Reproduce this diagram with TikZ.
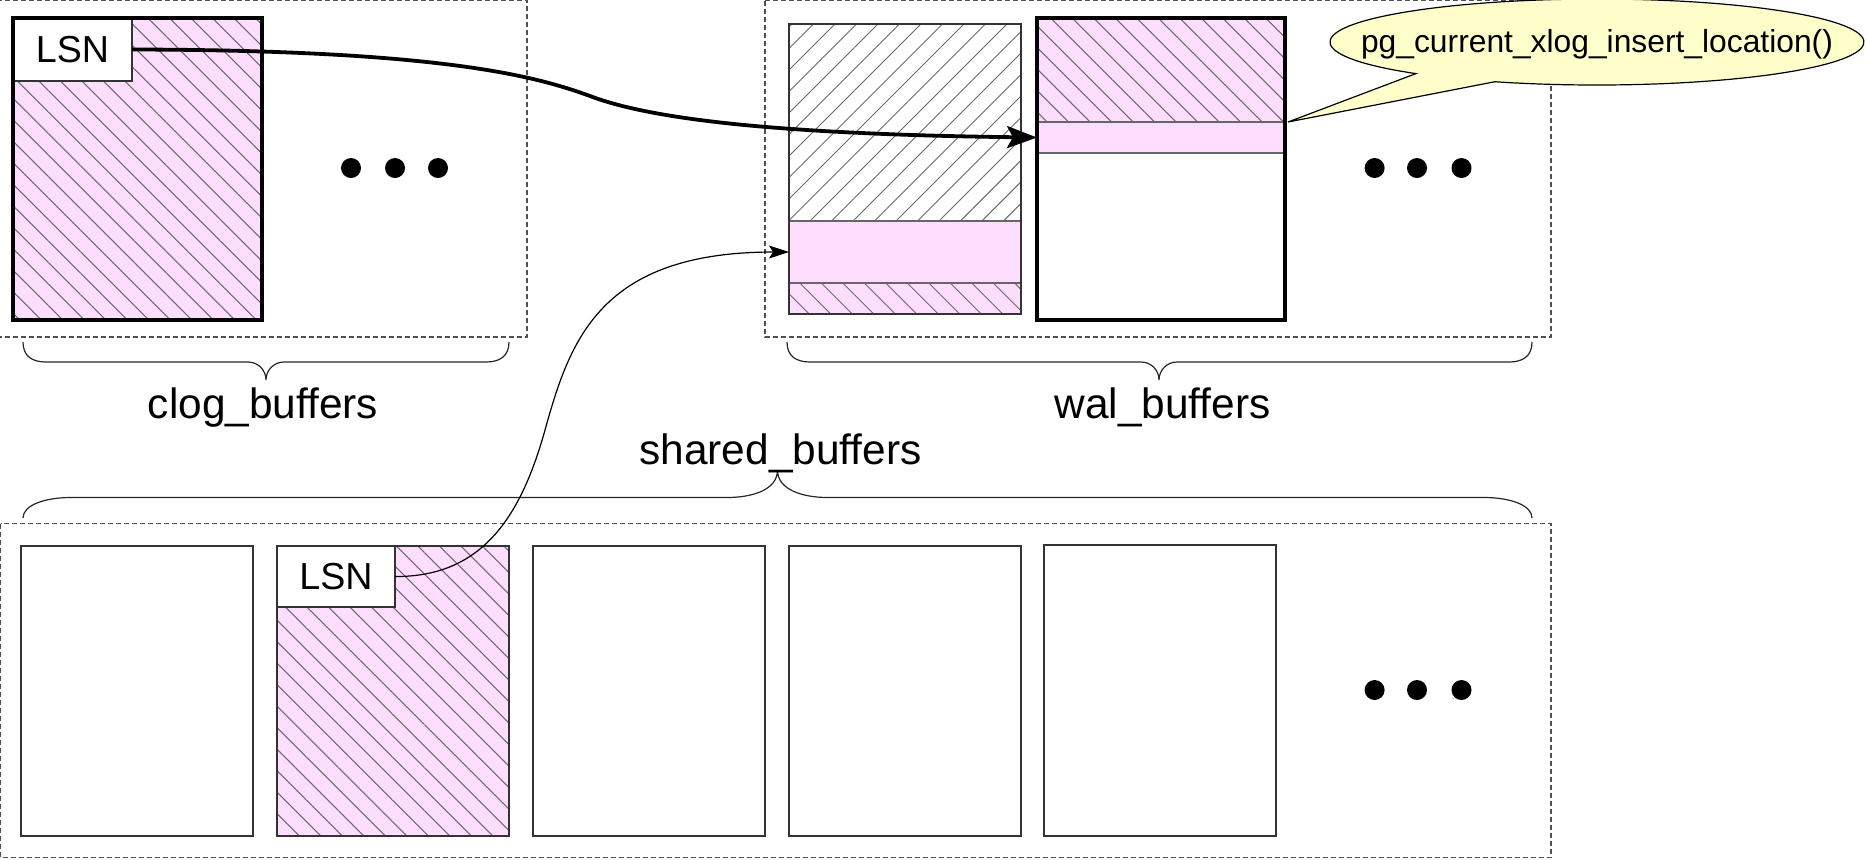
\documentclass[tikz,border=0pt]{standalone}
\usepackage{fontspec}
\setmainfont{Liberation Sans}
\usetikzlibrary{patterns.meta,arrows.meta}
\definecolor{pinkc}{RGB}{255,221,255}
\definecolor{callc}{RGB}{255,255,204}
\definecolor{hatchc}{RGB}{105,105,105}
\definecolor{dashc}{RGB}{80,80,80}
\begin{document}
\begin{tikzpicture}[x=0.5pt,y=-0.5pt,
  nwh/.style={pattern={Lines[angle=-45,distance=7.6pt,line width=0.5pt]},pattern color=hatchc},
  neh/.style={pattern={Lines[angle=45,distance=7.6pt,line width=0.5pt]},pattern color=hatchc},
  dbox/.style={draw=dashc,line width=0.6pt,dash pattern=on 2.5pt off 1.5pt},
  thinbox/.style={draw=black!80,line width=0.6pt,inner sep=0pt,outer sep=0pt,anchor=north west},
  thickbox/.style={draw=black,line width=1.6pt,inner sep=0pt,outer sep=0pt,anchor=north west},
  lsnbox/.style={thinbox,fill=white,font=\fontsize{18.8pt}{21pt}\selectfont},
  lab/.style={font=\fontsize{21.2pt}{25pt}\selectfont,anchor=base,inner sep=0pt},
  brace/.style={draw=black!85,line width=0.6pt},
  bandline/.style={draw=black!60,line width=0.6pt}
]
\useasboundingbox (0,0) rectangle (1866,859);

% dashed groups
\draw[dbox] (-3,0.6) rectangle (527,337);
\draw[dbox] (765,0.6) rectangle (1551,337);
\draw[dbox] (0.6,523.5) rectangle (1551,857.5);

% clog buffer
\fill[pinkc] (13,18) rectangle (262,320);
\path[nwh] (13,18) rectangle (262,320);
\node[lsnbox,minimum width=59.5pt,minimum height=31.5pt] (clsn) at (13,18) {LSN};
\node[thickbox,minimum width=124.5pt,minimum height=151pt] (clog) at (13,18) {};
\fill (351,168) circle[radius=10] (395,168) circle[radius=10] (438,168) circle[radius=10];

% wal buffer 1
\path[neh] (789,24) rectangle (1021,221);
\node[thinbox,fill=pinkc,draw=black!60,minimum width=116pt,minimum height=31pt] (w1band) at (789,221) {};
\fill[pinkc] (789,283) rectangle (1021,314);
\path[nwh] (789,283) rectangle (1021,314);
\draw[bandline] (789,283) -- (1021,283);
\node[thinbox,minimum width=116pt,minimum height=145pt] (wal1) at (789,24) {};

% wal buffer 2
\fill[pinkc] (1037,18) rectangle (1285,122);
\path[nwh] (1037,18) rectangle (1285,122);
\node[thinbox,fill=pinkc,draw=black!60,minimum width=124pt,minimum height=15.5pt] (w2band) at (1037,122) {};
\node[thickbox,minimum width=124pt,minimum height=151pt] (wal2) at (1037,18) {};
\fill (1374.6,168) circle[radius=10] (1417,168) circle[radius=10] (1461.5,168) circle[radius=10];

% shared buffers
\node[thinbox,minimum width=116pt,minimum height=145pt] (s1) at (21,546) {};
\fill[pinkc] (277,546) rectangle (509,836);
\path[nwh] (277,546) rectangle (509,836);
\node[lsnbox,minimum width=59pt,minimum height=30.5pt] (slsn) at (277,546) {LSN};
\node[thinbox,minimum width=116pt,minimum height=145pt] (s2) at (277,546) {};
\node[thinbox,minimum width=116pt,minimum height=145pt] (s3) at (533,546) {};
\node[thinbox,minimum width=116pt,minimum height=145pt] (s4) at (789,546) {};
\node[thinbox,minimum width=116pt,minimum height=145.5pt] (s5) at (1044,545) {};
\fill (1374.6,690) circle[radius=10] (1417,690) circle[radius=10] (1461.5,690) circle[radius=10];

% braces
\draw[brace] (23,342) .. controls (23,356) and (32,362) .. (46,362) -- (248,362)
  .. controls (258,362) and (266,370) .. (266,380)
  .. controls (266,370) and (274,362) .. (284,362) -- (486,362)
  .. controls (500,362) and (509,356) .. (509,342);
\draw[brace] (787,342) .. controls (787,356) and (796,362) .. (810,362) -- (1141,362)
  .. controls (1151,362) and (1159,370) .. (1159,380)
  .. controls (1159,370) and (1167,362) .. (1177,362) -- (1509,362)
  .. controls (1523,362) and (1532,356) .. (1532,342);
\draw[brace] (23,518) .. controls (23,505) and (45,497.5) .. (71,497.5) -- (727,497.5)
  .. controls (752,497.5) and (777.5,490) .. (777.5,470)
  .. controls (777.5,490) and (803,497.5) .. (828,497.5) -- (1484,497.5)
  .. controls (1510,497.5) and (1532,505) .. (1532,518);

% labels
\node[lab] (clogl) at (263,418) {clog\_buffers};
\node[lab] (wall) at (1162.5,418) {wal\_buffers};
\node[lab] (sharedl) at (780.5,464) {shared\_buffers};

% connectors
\draw[line width=1.9pt,-{Stealth[length=15pt,width=11pt,inset=3pt]}]
  (clsn.east) .. controls (450,50) and (540,78) .. (590,96)
  .. controls (645,117) and (760,134) .. (w2band.west);
\draw[line width=0.6pt,-{Stealth[length=10pt,width=6.5pt,inset=2pt]}]
  (slsn.east) .. controls (480,577) and (520,520) .. (545,430)
  .. controls (570,340) and (600,252) .. (w1band.west);

% callout
\filldraw[fill=callc,draw=black,line width=0.6pt]
  (1415.9,73.6) arc[start angle=132.7,end angle=472.5,x radius=267,y radius=43]
  -- ([xshift=1.5pt]w2band.north east) -- cycle;
\node[font=\fontsize{15.9pt}{18pt}\selectfont,anchor=base,inner sep=0pt] (callt) at (1597,52) {pg\_current\_xlog\_insert\_location()};
\end{tikzpicture}
\end{document}
